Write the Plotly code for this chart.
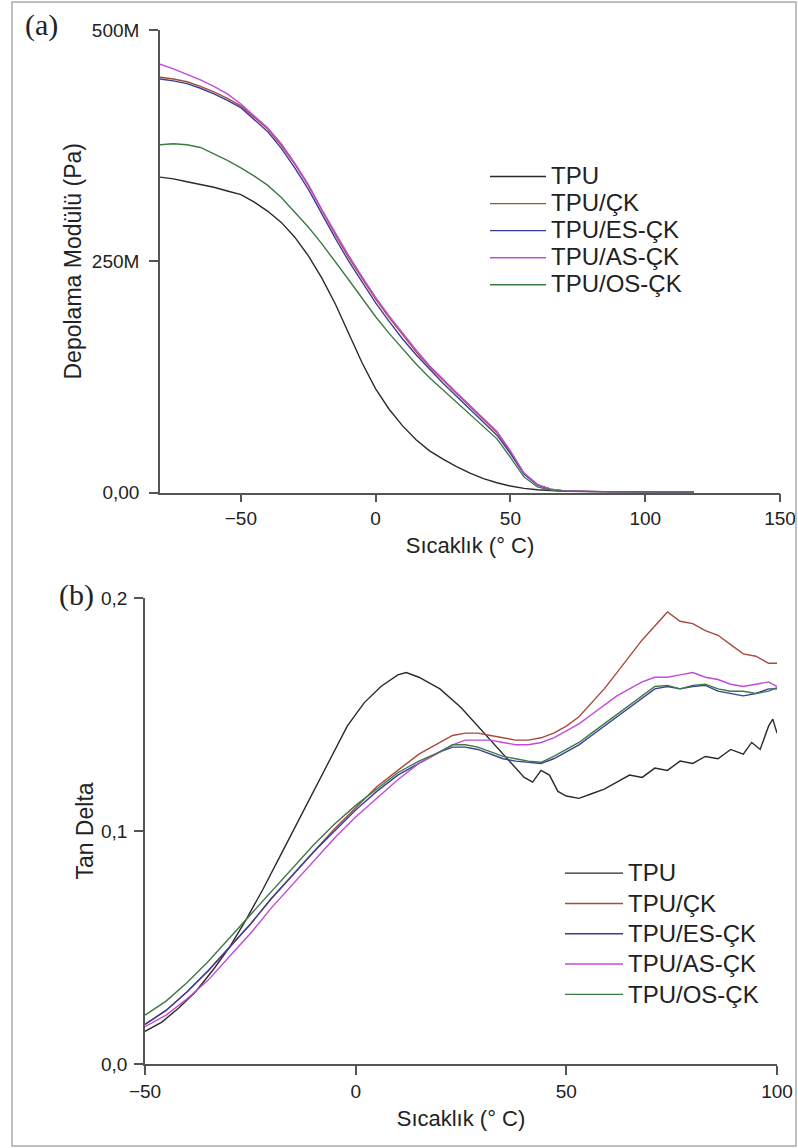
import plotly.graph_objects as go

# ---------------- Panel (a): storage modulus (values in units of 1e6 Pa) ----------------
temp_a = [-80, -75, -70, -65, -60, -55, -50, -45, -40, -35, -30, -25, -20, -15, -10, -5,
          0, 5, 10, 15, 20, 25, 30, 35, 40, 45, 50, 55, 60, 65, 70, 75, 80, 90, 100, 110, 118]

tpu_a = [341, 339, 336, 333, 330, 326, 322, 314, 304, 292, 276, 256, 232, 204, 172, 140,
         112, 90, 72, 57, 45, 36, 28, 21, 15, 10.5, 7, 4.5, 3, 2, 1.4, 1.0, 0.8, 0.5, 0.3, 0.2, 0.2]
ck_a = [449, 447, 444, 439, 433, 426, 418, 406, 393, 375, 355, 332, 305, 279, 254, 231,
        209, 189, 170, 152, 136, 121, 107, 93, 79, 65, 44, 21, 8.5, 3.6, 1.8, 1.3, 0.9, 0.6, 0.5, 0.4, 0.3]
es_a = [447, 445, 442, 437, 431, 424, 416, 403, 390, 372, 351, 328, 301, 275, 250, 227,
        205, 185, 166, 149, 133, 118, 104, 90, 76, 62, 42, 20, 8, 3.4, 1.7, 1.2, 0.9, 0.6, 0.5, 0.4, 0.3]
as_a = [463, 458, 452, 446, 439, 431, 420, 407, 394, 377, 356, 333, 306, 281, 256, 233,
        211, 191, 172, 154, 137, 122, 108, 94, 80, 66, 45, 21, 8.5, 3.6, 1.8, 1.3, 0.9, 0.6, 0.5, 0.4, 0.3]
os_a = [376, 377, 376, 373, 366, 359, 351, 342, 332, 319, 303, 287, 269, 250, 230, 210,
        190, 172, 155, 139, 124, 111, 98, 85, 72, 58, 38, 17, 6, 2.6, 1.5, 1.1, 0.9, 0.6, 0.5, 0.4, 0.3]

# ---------------- Panel (b): tan delta ----------------
temp_b_tpu = [-50, -46, -42, -38, -34, -30, -26, -22, -18, -14, -10, -6, -2, 2, 6, 10, 12, 15,
              20, 25, 30, 35, 40, 42, 44, 46, 48, 50, 53, 56, 59, 62, 65, 68, 71, 74, 77, 80,
              83, 86, 89, 92, 94, 96, 98, 99, 100]
tpu_b = [0.014, 0.018, 0.024, 0.031, 0.040, 0.050, 0.062, 0.075, 0.089, 0.103, 0.117, 0.131,
         0.145, 0.155, 0.162, 0.167, 0.168, 0.166, 0.161, 0.153, 0.143, 0.133, 0.123, 0.121,
         0.126, 0.124, 0.117, 0.115, 0.114, 0.116, 0.118, 0.121, 0.124, 0.123, 0.127, 0.126,
         0.130, 0.129, 0.132, 0.131, 0.135, 0.133, 0.138, 0.135, 0.145, 0.148, 0.142]

temp_b = [-50, -45, -40, -35, -30, -25, -20, -15, -10, -5, 0, 5, 10, 15, 20, 23, 26, 29, 32,
          35, 38, 41, 44, 47, 50, 53, 56, 59, 62, 65, 68, 71, 74, 77, 80, 83, 86, 89, 92, 95,
          98, 100]
ck_b = [0.017, 0.023, 0.031, 0.040, 0.050, 0.060, 0.071, 0.081, 0.091, 0.101, 0.110, 0.119,
        0.126, 0.133, 0.138, 0.141, 0.142, 0.142, 0.141, 0.140, 0.139, 0.139, 0.140, 0.142,
        0.145, 0.149, 0.155, 0.161, 0.168, 0.175, 0.182, 0.188, 0.194, 0.190, 0.189, 0.186,
        0.184, 0.180, 0.176, 0.175, 0.172, 0.172]
es_b = [0.017, 0.023, 0.031, 0.040, 0.050, 0.060, 0.071, 0.081, 0.091, 0.100, 0.109, 0.117,
        0.124, 0.129, 0.134, 0.136, 0.136, 0.135, 0.133, 0.131, 0.130, 0.1295, 0.129, 0.131,
        0.134, 0.137, 0.141, 0.145, 0.149, 0.153, 0.157, 0.161, 0.162, 0.161, 0.162, 0.1625,
        0.160, 0.159, 0.158, 0.159, 0.161, 0.161]
as_b = [0.016, 0.021, 0.028, 0.036, 0.046, 0.056, 0.067, 0.077, 0.087, 0.097, 0.106, 0.114,
        0.122, 0.129, 0.134, 0.137, 0.139, 0.139, 0.139, 0.138, 0.137, 0.137, 0.138, 0.140,
        0.143, 0.146, 0.150, 0.154, 0.158, 0.161, 0.164, 0.166, 0.166, 0.167, 0.168, 0.166,
        0.165, 0.163, 0.162, 0.163, 0.164, 0.162]
os_b = [0.021, 0.027, 0.035, 0.044, 0.054, 0.064, 0.074, 0.084, 0.094, 0.103, 0.111, 0.118,
        0.125, 0.130, 0.134, 0.137, 0.137, 0.136, 0.134, 0.132, 0.131, 0.130, 0.1295, 0.132,
        0.135, 0.138, 0.142, 0.146, 0.150, 0.154, 0.158, 0.162, 0.1625, 0.161, 0.1625, 0.163,
        0.161, 0.160, 0.160, 0.159, 0.160, 0.1615]

names = ["TPU", "TPU/ÇK", "TPU/ES-ÇK", "TPU/AS-ÇK", "TPU/OS-ÇK"]
colors = ["#2a2a2a", "#a84a3c", "#3b3f94", "#c24ad8", "#3d7a44"]

a_series = [tpu_a, ck_a, es_a, as_a, os_a]
b_series = [(temp_b_tpu, tpu_b), (temp_b, ck_b), (temp_b, es_b), (temp_b, as_b), (temp_b, os_b)]


def legend_label(text):
    return "<span style='font-size:24px'>" + text + "</span>"


fig = go.Figure()
for name, col, ys in zip(names, colors, a_series):
    fig.add_trace(go.Scatter(x=temp_a, y=[v * 1e6 for v in ys], mode="lines",
                             name=legend_label(name),
                             line=dict(color=col, width=1.4), xaxis="x", yaxis="y",
                             legend="legend"))
for name, col, (xs, ys) in zip(names, colors, b_series):
    fig.add_trace(go.Scatter(x=xs, y=ys, mode="lines", name=legend_label(name),
                             line=dict(color=col, width=1.4), xaxis="x2", yaxis="y2",
                             legend="legend2"))

W, H = 798, 1148
axis_common = dict(showline=True, linecolor="#555", linewidth=1.6, ticks="outside",
                   tickwidth=1.6, tickcolor="#555", showgrid=False, zeroline=False,
                   automargin=False, tickfont=dict(family="Liberation Sans", size=19, color="#222"))
title_font = dict(family="Liberation Sans", size=22, color="#222")
ytitle_font = dict(family="Liberation Sans", size=23, color="#222")

fig.update_layout(
    width=W, height=H,
    margin=dict(l=0, r=0, t=0, b=0),
    paper_bgcolor="white", plot_bgcolor="white",
    xaxis=dict(domain=[160 / W, 780 / W], range=[-80, 150], tickvals=[-50, 0, 50, 100, 150],
               anchor="y", ticklen=8,
               title=dict(text="Sıcaklık (° C)", font=title_font, standoff=10),
               **axis_common),
    yaxis=dict(domain=[1 - 492.5 / H, 1 - 30 / H], range=[0, 500e6],
               tickvals=[0, 250e6, 500e6], ticktext=["0,00", "250M", "500M"], anchor="x",
               ticklen=9, ticklabelstandoff=6,
               title=dict(text="Depolama Modülü (Pa)", font=ytitle_font, standoff=4),
               **axis_common),
    xaxis2=dict(domain=[145 / W, 777 / W], range=[-50, 100], tickvals=[-50, 0, 50, 100],
                anchor="y2", ticklen=9,
                title=dict(text="Sıcaklık (° C)", font=title_font, standoff=10),
                **axis_common),
    yaxis2=dict(domain=[1 - 1064 / H, 1 - 598 / H], range=[0, 0.2],
                tickvals=[0, 0.1, 0.2], ticktext=["0,0", "0,1", "0,2"], anchor="x2",
                ticklen=9, ticklabelstandoff=3,
                title=dict(text="Tan Delta", font=ytitle_font, standoff=1),
                **axis_common),
    legend=dict(x=485 / W, y=1 - 158 / H, xanchor="left", yanchor="top",
                bgcolor="rgba(0,0,0,0)", itemwidth=56,
                font=dict(family="Liberation Sans", size=18.5, color="#222")),
    legend2=dict(x=560 / W, y=1 - 853 / H, xanchor="left", yanchor="top",
                 bgcolor="rgba(0,0,0,0)", itemwidth=58,
                 font=dict(family="Liberation Sans", size=21, color="#222")),
    shapes=[dict(type="rect", xref="paper", yref="paper", x0=12 / W, x1=796 / W,
                 y0=2 / H, y1=1 - 2 / H, line=dict(color="#aaa", width=1.5))],
    annotations=[
        dict(text="(a)", x=41 / W, y=1 - 25 / H, xref="paper", yref="paper",
             xanchor="center", yanchor="middle",
             showarrow=False, font=dict(family="Liberation Serif", size=30, color="#222")),
        dict(text="(b)", x=76 / W, y=1 - 595 / H, xref="paper", yref="paper",
             xanchor="center", yanchor="middle",
             showarrow=False, font=dict(family="Liberation Serif", size=30, color="#222")),
    ],
)

fig.write_html("out.html")
